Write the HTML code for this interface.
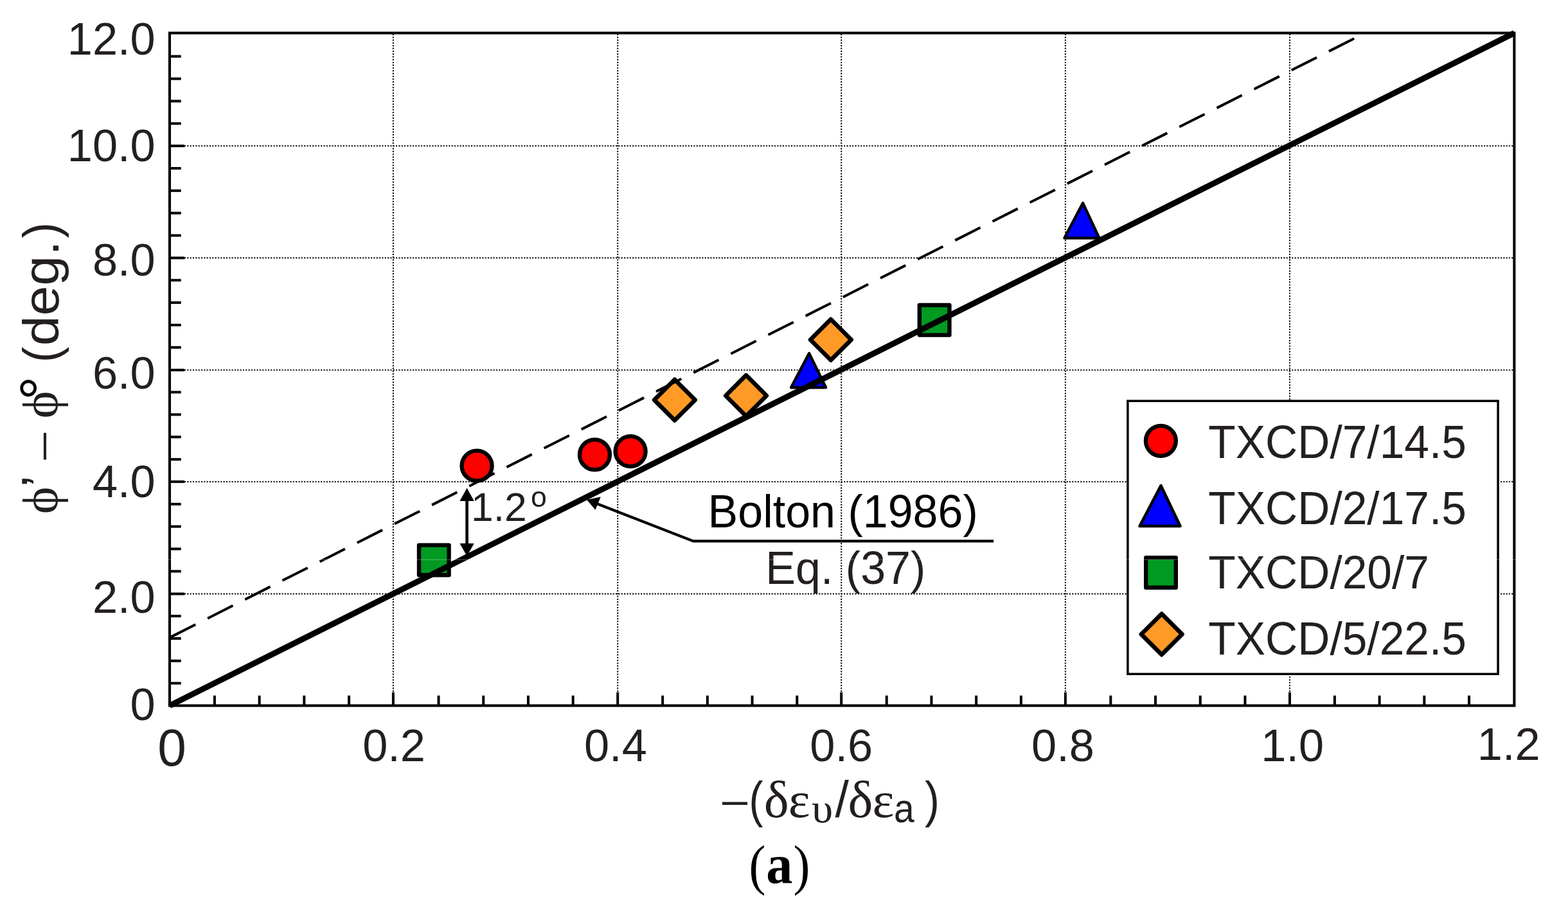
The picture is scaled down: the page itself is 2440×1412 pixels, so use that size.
<!DOCTYPE html>
<html lang="en"><head><meta charset="utf-8"><title>Figure (a)</title>
<style>html,body{margin:0;padding:0;background:#fff}body{width:2440px;height:1412px}svg{display:block}text{font-family:"Liberation Sans",sans-serif;fill:#231f20;font-kerning:none;white-space:pre}.g{font-family:"Liberation Serif",serif}.b{font-weight:bold}.k{fill:#000}</style>
</head><body>
<svg width="2440" height="1412" viewBox="0 0 2440 1412">
<rect x="0" y="0" width="2440" height="1412" fill="#fff"/>
<g stroke="#0d0d0d" stroke-width="2.4" stroke-dasharray="0.01 4.32" stroke-linecap="round" fill="none">
<line x1="611.9" y1="53.9" x2="611.9" y2="1077.5"/>
<line x1="961.2" y1="53.9" x2="961.2" y2="1077.5"/>
<line x1="1309.2" y1="53.9" x2="1309.2" y2="1077.5"/>
<line x1="1657.9" y1="53.9" x2="1657.9" y2="1077.5"/>
<line x1="2007" y1="53.9" x2="2007" y2="1077.5"/>
<line x1="288" y1="924.5" x2="2354.4" y2="924.5"/>
<line x1="288" y1="749.9" x2="2354.4" y2="749.9"/>
<line x1="288" y1="576.1" x2="2354.4" y2="576.1"/>
<line x1="288" y1="401.5" x2="2354.4" y2="401.5"/>
<line x1="288" y1="227.15" x2="2354.4" y2="227.15"/>
</g>
<g stroke="#000" stroke-width="4" fill="none">
<line x1="264" y1="1063.65" x2="281.7" y2="1063.65"/>
<line x1="264" y1="1028.79" x2="281.7" y2="1028.79"/>
<line x1="264" y1="993.94" x2="281.7" y2="993.94"/>
<line x1="264" y1="959.08" x2="281.7" y2="959.08"/>
<line x1="264" y1="924.5" x2="287" y2="924.5"/>
<line x1="264" y1="889.38" x2="281.7" y2="889.38"/>
<line x1="264" y1="854.52" x2="281.7" y2="854.52"/>
<line x1="264" y1="819.67" x2="281.7" y2="819.67"/>
<line x1="264" y1="784.81" x2="281.7" y2="784.81"/>
<line x1="264" y1="749.9" x2="287" y2="749.9"/>
<line x1="264" y1="715.11" x2="281.7" y2="715.11"/>
<line x1="264" y1="680.25" x2="281.7" y2="680.25"/>
<line x1="264" y1="645.4" x2="281.7" y2="645.4"/>
<line x1="264" y1="610.54" x2="281.7" y2="610.54"/>
<line x1="264" y1="576.1" x2="287" y2="576.1"/>
<line x1="264" y1="540.84" x2="281.7" y2="540.84"/>
<line x1="264" y1="505.98" x2="281.7" y2="505.98"/>
<line x1="264" y1="471.13" x2="281.7" y2="471.13"/>
<line x1="264" y1="436.27" x2="281.7" y2="436.27"/>
<line x1="264" y1="401.5" x2="287" y2="401.5"/>
<line x1="264" y1="366.57" x2="281.7" y2="366.57"/>
<line x1="264" y1="331.71" x2="281.7" y2="331.71"/>
<line x1="264" y1="296.86" x2="281.7" y2="296.86"/>
<line x1="264" y1="262" x2="281.7" y2="262"/>
<line x1="264" y1="227.15" x2="287" y2="227.15"/>
<line x1="264" y1="192.3" x2="281.7" y2="192.3"/>
<line x1="264" y1="157.44" x2="281.7" y2="157.44"/>
<line x1="264" y1="122.59" x2="281.7" y2="122.59"/>
<line x1="264" y1="87.73" x2="281.7" y2="87.73"/>
<line x1="333.92" y1="1098.5" x2="333.92" y2="1082.8"/>
<line x1="403.64" y1="1098.5" x2="403.64" y2="1082.8"/>
<line x1="473.36" y1="1098.5" x2="473.36" y2="1082.8"/>
<line x1="543.08" y1="1098.5" x2="543.08" y2="1082.8"/>
<line x1="611.9" y1="1098.5" x2="611.9" y2="1077.7"/>
<line x1="682.52" y1="1098.5" x2="682.52" y2="1082.8"/>
<line x1="752.24" y1="1098.5" x2="752.24" y2="1082.8"/>
<line x1="821.96" y1="1098.5" x2="821.96" y2="1082.8"/>
<line x1="891.68" y1="1098.5" x2="891.68" y2="1082.8"/>
<line x1="961.2" y1="1098.5" x2="961.2" y2="1077.7"/>
<line x1="1031.12" y1="1098.5" x2="1031.12" y2="1082.8"/>
<line x1="1100.84" y1="1098.5" x2="1100.84" y2="1082.8"/>
<line x1="1170.56" y1="1098.5" x2="1170.56" y2="1082.8"/>
<line x1="1240.28" y1="1098.5" x2="1240.28" y2="1082.8"/>
<line x1="1309.2" y1="1098.5" x2="1309.2" y2="1077.7"/>
<line x1="1379.72" y1="1098.5" x2="1379.72" y2="1082.8"/>
<line x1="1449.44" y1="1098.5" x2="1449.44" y2="1082.8"/>
<line x1="1519.16" y1="1098.5" x2="1519.16" y2="1082.8"/>
<line x1="1588.88" y1="1098.5" x2="1588.88" y2="1082.8"/>
<line x1="1657.9" y1="1098.5" x2="1657.9" y2="1077.7"/>
<line x1="1728.32" y1="1098.5" x2="1728.32" y2="1082.8"/>
<line x1="1798.04" y1="1098.5" x2="1798.04" y2="1082.8"/>
<line x1="1867.76" y1="1098.5" x2="1867.76" y2="1082.8"/>
<line x1="1937.48" y1="1098.5" x2="1937.48" y2="1082.8"/>
<line x1="2007" y1="1098.5" x2="2007" y2="1077.7"/>
<line x1="2076.92" y1="1098.5" x2="2076.92" y2="1082.8"/>
<line x1="2146.64" y1="1098.5" x2="2146.64" y2="1082.8"/>
<line x1="2216.36" y1="1098.5" x2="2216.36" y2="1082.8"/>
<line x1="2286.08" y1="1098.5" x2="2286.08" y2="1082.8"/>
</g>
<rect x="652" y="848.6" width="46.6" height="46.6" fill="#009a22" stroke="#000" stroke-width="6.4" stroke-linejoin="round"/>
<rect x="1430.85" y="475" width="46.6" height="46.6" fill="#009a22" stroke="#000" stroke-width="6.4" stroke-linejoin="round"/>
<circle cx="742.1" cy="725.2" r="23.5" fill="#f00" stroke="#000" stroke-width="6.3"/>
<circle cx="925.45" cy="707.9" r="23.5" fill="#f00" stroke="#000" stroke-width="6.3"/>
<circle cx="981.1" cy="702.65" r="23.5" fill="#f00" stroke="#000" stroke-width="6.3"/>
<polygon points="1018.1,622.6 1049.9,590.8 1081.7,622.6 1049.9,654.4" fill="#ff9a26" stroke="#000" stroke-width="6.6" stroke-linejoin="round"/>
<polygon points="1129.25,616 1161.05,584.2 1192.85,616 1161.05,647.8" fill="#ff9a26" stroke="#000" stroke-width="6.6" stroke-linejoin="round"/>
<polygon points="1261.05,528.9 1292.85,497.1 1324.65,528.9 1292.85,560.7" fill="#ff9a26" stroke="#000" stroke-width="6.6" stroke-linejoin="round"/>
<polygon points="1231,603.3 1285.2,603.3 1259.05,550" fill="#00f" stroke="#000" stroke-width="4.3" stroke-linejoin="round"/>
<polygon points="1656.4,370.6 1710.6,370.6 1685.1,316.1" fill="#00f" stroke="#000" stroke-width="4.3" stroke-linejoin="round"/>
<line x1="264" y1="992.6" x2="2107.2" y2="60" stroke="#000" stroke-width="4" stroke-dasharray="44 21.18" stroke-dashoffset="-1.1"/>
<line x1="264" y1="1098.5" x2="2356.4" y2="51.4" stroke="#000" stroke-width="9.1"/>
<rect x="264" y="51.4" width="2092.4" height="1047.1" fill="none" stroke="#000" stroke-width="4.1"/>
<line x1="726.6" y1="775" x2="726.6" y2="850" stroke="#000" stroke-width="4.6"/>
<polygon points="726.6,759.8 715.4,779.95 737.8,779.95" fill="#000"/>
<polygon points="726.6,865.5 715.4,845.9 737.8,845.9" fill="#000"/>
<text><tspan x="732.94" y="810.5" font-size="63.45" textLength="86.85" lengthAdjust="spacingAndGlyphs">1.2</tspan><tspan x="826.12" y="788.86" font-size="44.9" textLength="24.85" lengthAdjust="spacingAndGlyphs">o</tspan></text>
<polyline points="926,783 1078.8,842.4 1546.2,842.4" fill="none" stroke="#000" stroke-width="4.2"/>
<polygon points="913.1,778 934.8,773.5 926.4,793.7" fill="#000"/>
<text class="k" transform="translate(1101.56,820.7) scale(1.0000,1.0200)" font-size="70">Bolton (1986)</text>
<text transform="translate(1191.36,909.3) scale(1.0000,1.0200)" font-size="70">Eq. (37)</text>
<rect x="1754.9" y="624.2" width="576.2" height="425.1" fill="#fff" stroke="#000" stroke-width="3.5"/>
<circle cx="1806.4" cy="686.3" r="23.5" fill="#f00" stroke="#000" stroke-width="6.3"/>
<polygon points="1773.6,819.05 1836.5,819.05 1806.5,756.1" fill="#00f" stroke="#000" stroke-width="4.6" stroke-linejoin="round"/>
<rect x="1783.2" y="868.1" width="46.6" height="46.6" fill="#009a22" stroke="#000" stroke-width="6.4" stroke-linejoin="round"/>
<polygon points="1775.9,987.4 1807.7,955.6 1839.5,987.4 1807.7,1019.2" fill="#ff9a26" stroke="#000" stroke-width="6.6" stroke-linejoin="round"/>
<text transform="translate(1880.24,713) scale(1.0000,1.0400)" font-size="69.5">TXCD/7/14.5</text>
<text transform="translate(1880.24,815.8) scale(1.0000,1.0400)" font-size="69.5">TXCD/2/17.5</text>
<text transform="translate(1880.24,915.9) scale(1.0000,1.0400)" font-size="69.5">TXCD/20/7</text>
<text transform="translate(1880.24,1019.4) scale(1.0000,1.0400)" font-size="69.5">TXCD/5/22.5</text>
<text transform="translate(104.73,84.9)" font-size="70.4">12.0</text>
<text transform="translate(104.73,251.4)" font-size="70.4">10.0</text>
<text transform="translate(143.88,429)" font-size="70.4">8.0</text>
<text transform="translate(143.88,605.1)" font-size="70.4">6.0</text>
<text transform="translate(143.88,774.1)" font-size="70.4">4.0</text>
<text transform="translate(143.88,953.6)" font-size="70.4">2.0</text>
<text transform="translate(202.6,1121.3)" font-size="70.4">0</text>
<text transform="translate(564.15,1184.5)" font-size="70.4">0.2</text>
<text transform="translate(908.95,1184.5)" font-size="70.4">0.4</text>
<text transform="translate(1260.35,1184.5)" font-size="70.4">0.6</text>
<text transform="translate(1605.05,1184.5)" font-size="70.4">0.8</text>
<text transform="translate(1962.28,1184.5)" font-size="70.4">1.0</text>
<text transform="translate(2298.78,1182.7)" font-size="70.4">1.2</text>
<text transform="translate(245.17,1192.2) scale(1.0000,1.0225)" font-size="80.12">0</text>
<text transform="translate(90.8,800) rotate(-90)"><tspan class="g" x="-0.33" y="-1.45" font-size="78.19" textLength="42.64" lengthAdjust="spacingAndGlyphs">ϕ</tspan><tspan x="41.58" y="-1.83" font-size="79.32" textLength="18.34" lengthAdjust="spacingAndGlyphs">’</tspan> <tspan class="g" x="84.95" y="-1.48" font-size="82.32" textLength="40.59" lengthAdjust="spacingAndGlyphs">–</tspan> <tspan class="g" x="148.56" y="-1.45" font-size="78.19" textLength="42.87" lengthAdjust="spacingAndGlyphs">ϕ</tspan><tspan class="k" x="177.03" y="4.07" font-size="90.18" textLength="37.38" lengthAdjust="spacingAndGlyphs">°</tspan> <tspan x="235.76" y="0.06" font-size="78.46" textLength="24.37" lengthAdjust="spacingAndGlyphs">(</tspan><tspan x="261.87" y="0.23" font-size="77.46" textLength="163.61" lengthAdjust="spacingAndGlyphs">deg.</tspan><tspan x="429.37" y="0.06" font-size="78.46" textLength="24.62" lengthAdjust="spacingAndGlyphs">)</tspan></text>
<text><tspan class="g" x="1124.42" y="1271.98" font-size="88.35" textLength="38.06" lengthAdjust="spacingAndGlyphs">–</tspan><tspan x="1165.51" y="1271.7" font-size="78.25" textLength="21.98" lengthAdjust="spacingAndGlyphs">(</tspan><tspan class="g" x="1188.7" y="1271.63" font-size="79.32" textLength="38.91" lengthAdjust="spacingAndGlyphs">δ</tspan><tspan class="g" x="1226.89" y="1271.63" font-size="79.22" textLength="33.83" lengthAdjust="spacingAndGlyphs">ε</tspan><tspan class="g" x="1263.02" y="1280.38" font-size="63.27" textLength="33.13" lengthAdjust="spacingAndGlyphs">υ</tspan><tspan x="1299.5" y="1272.43" font-size="79.25" textLength="21.4" lengthAdjust="spacingAndGlyphs">/</tspan><tspan class="g" x="1319.6" y="1271.63" font-size="79.32" textLength="38.91" lengthAdjust="spacingAndGlyphs">δ</tspan><tspan class="g" x="1357.48" y="1271.63" font-size="79.22" textLength="33.95" lengthAdjust="spacingAndGlyphs">ε</tspan><tspan x="1390.88" y="1280.39" font-size="62.61" textLength="31.72" lengthAdjust="spacingAndGlyphs">a</tspan><tspan x="1438.9" y="1271.7" font-size="78.25" textLength="22.98" lengthAdjust="spacingAndGlyphs">)</tspan></text>
<text><tspan class="g k" x="1165.48" y="1375.91" font-size="85.91" textLength="25.93" lengthAdjust="spacingAndGlyphs">(</tspan><tspan class="g b k" x="1192.35" y="1375.46" font-size="86.43" textLength="41.09" lengthAdjust="spacingAndGlyphs">a</tspan><tspan class="g k" x="1234.39" y="1375.91" font-size="85.91" textLength="25.93" lengthAdjust="spacingAndGlyphs">)</tspan></text>
<line x1="0" y1="871.2" x2="2440" y2="871.2" stroke="#fff" stroke-width="0.7" stroke-opacity="0.5"/>
</svg>
</body></html>
